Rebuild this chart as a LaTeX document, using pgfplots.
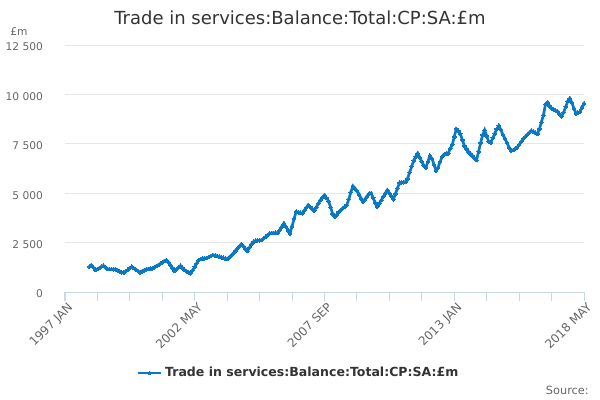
\documentclass[border=0pt]{standalone}
\usepackage{pgfplots}
\pgfplotsset{compat=1.18}
\usepackage{fontspec}
\setmainfont{DejaVu Sans}
\definecolor{lineblue}{RGB}{10,120,195}
\definecolor{axisblue}{RGB}{204,214,235}
\definecolor{gridgray}{RGB}{230,230,230}
\definecolor{labelgray}{RGB}{102,102,102}
\definecolor{titlegray}{RGB}{51,51,51}
\pgfplotstableread{
m v
12 1280
13 1366
14 1240
15 1113
16 1165
17 1220
18 1290
19 1330
20 1250
21 1164
22 1160
23 1160
24 1155
25 1150
26 1100
27 1050
28 1000
29 977
30 1050
31 1130
32 1220
33 1280
34 1210
35 1140
36 1060
37 997
38 1050
39 1100
40 1148
41 1165
42 1180
43 1199
44 1250
45 1310
46 1366
47 1430
48 1500
49 1570
50 1619
51 1500
52 1366
53 1220
54 1078
55 1160
56 1250
57 1330
58 1220
59 1113
60 1050
61 990
62 946
63 1100
64 1280
65 1450
66 1619
67 1670
68 1705
69 1710
70 1720
71 1770
72 1820
73 1872
74 1850
75 1820
76 1787
77 1760
78 1730
79 1700
80 1670
81 1760
82 1860
83 1958
84 2080
85 2200
86 2320
87 2429
88 2310
89 2190
90 2075
91 2250
92 2420
93 2540
94 2596
95 2610
96 2620
97 2631
98 2720
99 2800
100 2890
101 2970
102 2980
103 2990
104 2995
105 3000
106 3160
107 3320
108 3476
109 3300
110 3130
111 2970
112 3330
113 3700
114 4063
115 4040
116 4010
117 3982
118 4120
119 4260
120 4402
121 4300
122 4210
123 4114
124 4300
125 4480
126 4655
127 4800
128 4908
129 4760
130 4600
131 4300
132 3950
133 3810
134 3900
135 4050
136 4150
137 4235
138 4320
139 4400
140 4700
141 5050
142 5364
143 5250
144 5120
145 4950
146 4750
147 4569
148 4700
149 4850
150 4980
151 5000
152 4760
153 4520
154 4316
155 4480
156 4650
157 4820
158 5000
159 5161
160 5000
161 4850
162 4691
163 4970
164 5250
165 5531
166 5545
167 5560
168 5575
169 5740
170 6050
171 6360
172 6650
173 6850
174 7018
175 6800
176 6600
177 6400
178 6300
179 6600
180 6900
181 6750
182 6450
183 6150
184 6300
185 6580
186 6850
187 6960
188 7000
189 7018
190 7250
191 7450
192 7850
193 8250
194 8150
195 8010
196 7700
197 7400
198 7250
199 7100
200 7000
201 6900
202 6780
203 6679
204 7100
205 7550
206 7950
207 8197
208 7900
209 7600
210 7550
211 7800
212 8020
213 8250
214 8415
215 8200
216 7950
217 7777
218 7550
219 7330
220 7150
221 7180
222 7250
223 7320
224 7450
225 7600
226 7750
227 7858
228 7960
229 8060
230 8162
231 8120
232 8060
233 8000
234 8250
235 8600
236 8956
237 9500
238 9600
239 9420
240 9295
241 9240
242 9180
243 9130
244 9000
245 8900
246 9100
247 9376
248 9650
249 9801
250 9580
251 9300
252 9042
253 9080
254 9123
255 9350
256 9548
}\datatable
\begin{document}
\begin{tikzpicture}
\useasboundingbox (0,0) rectangle (450pt,-300pt);
\begin{axis}[
  at={(48.75pt,-219pt)}, anchor=south west,
  scale only axis, width=389.25pt, height=185.25pt,
  xmin=0, xmax=256, ymin=0, ymax=12500,
  scaled y ticks=false,
  axis x line*=bottom, axis y line*=left,
  x axis line style={-, color=axisblue, line width=0.75pt},
  y axis line style={draw=none},
  xtick={0,64,128,192,256},
  minor xtick={16,32,48,80,96,112,144,160,176,208,224,240},
  xticklabels={1997 JAN,2002 MAY,2007 SEP,2013 JAN,2018 MAY},
  xtick style={color=axisblue, line width=0.75pt},
  minor x tick style={color=axisblue, line width=0.75pt},
  tick align=outside, major tick length=7pt, minor tick length=7pt,
  xticklabel style={rotate=45, anchor=north east, font=\fontsize{9}{10}\selectfont, text=labelgray, inner sep=1pt, xshift=2pt},
  ytick={0,2500,5000,7500,10000,12500},
  yticklabels={0,2 500,5 000,7 500,10 000,12 500},
  ytick style={draw=none},
  yticklabel style={anchor=east, font=\fontsize{8}{9}\selectfont, text=labelgray, xshift=-6pt, yshift=-1.5pt},
  ymajorgrids, grid style={color=gridgray, line width=0.75pt},
  legend style={at={(0.451,-0.328)}, anchor=center, draw=none, fill=none, font=\bfseries\fontsize{9.4}{11}\selectfont, text=titlegray},
  legend cell align=left,
  clip=false,
]
\addplot[color=lineblue, line width=2pt, mark=*, mark size=1.4pt, mark options={solid, line width=0pt, draw=none, fill=lineblue}] table[x=m,y=v] {\datatable};
\addlegendentry{Trade in services:Balance:Total:CP:SA:£m}
\end{axis}
\node[anchor=center, text=titlegray, font=\fontsize{13.5}{15}\selectfont] at (225pt,-13.5pt) {Trade in services:Balance:Total:CP:SA:£m};
\node[anchor=west, text=labelgray, font=\fontsize{8}{9}\selectfont, inner sep=0pt] at (7.5pt,-24pt) {£m};
\node[anchor=east, text=labelgray, font=\fontsize{8.5}{10}\selectfont, inner sep=0pt] at (441.75pt,-292.5pt) {Source:};
\end{tikzpicture}
\end{document}
